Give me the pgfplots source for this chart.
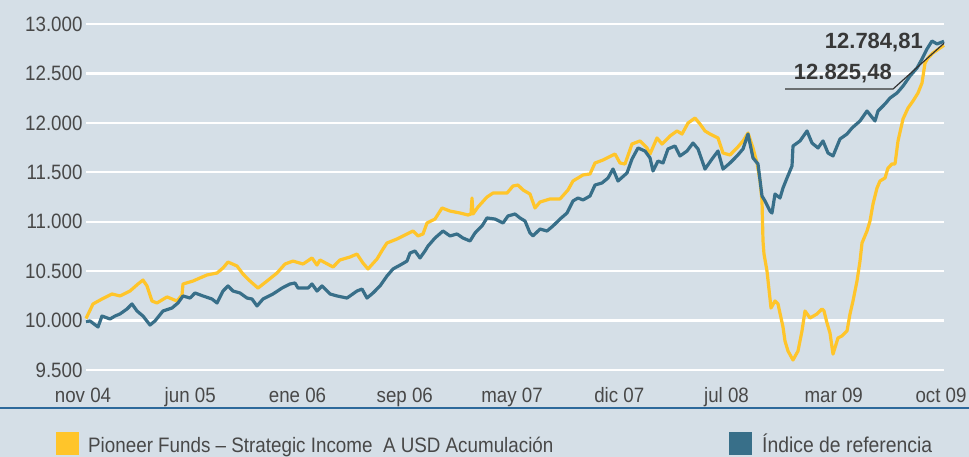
\documentclass[border=0pt]{standalone}
\usepackage{fontspec}
\setmainfont[FakeStretch=0.9]{Liberation Sans}
\newfontfamily\numfont{Liberation Sans}
\usepackage{pgfplots}
\pgfplotsset{compat=1.18}
\definecolor{bgcol}{RGB}{213,223,231}
\definecolor{fundcol}{RGB}{255,197,42}
\definecolor{idxcol}{RGB}{56,111,137}
\definecolor{txtcol}{RGB}{72,72,72}
\definecolor{sepcol}{RGB}{45,105,155}
\begin{document}
\begin{tikzpicture}[x=1pt,y=1pt]
\fill[bgcol] (0,0) rectangle (969,457);
\useasboundingbox (0,0) rectangle (969,457);
\begin{axis}[
  at={(86,88)}, anchor=south west,
  scale only axis, width=858pt, height=346pt,
  xmin=0, xmax=858, ymin=9500, ymax=13000,
  axis line style={draw=none},
  major tick length=0pt,
  scaled y ticks=false,
  ytick={9500,10000,...,13000},
  xtick={0,107.25,214.5,321.75,429,536.25,643.5,750.75,858},
  xticklabels={nov 04,jun 05,ene 06,sep 06,may 07,dic 07,jul 08,mar 09,oct 09},
  /pgf/number format/.cd,1000 sep={.},assume math mode=true,
  /pgfplots/.cd,
  ymajorgrids,
  grid style={white, line width=2.4pt},
  tick label style={font=\fontsize{20.8}{24}\selectfont, text=txtcol},
  xticklabel style={yshift=-14pt, xshift=-3pt},
  clip=false,
]
\addplot[fundcol, line width=3.2pt, line join=round] coordinates {
(0,10020) (7,10168) (16,10218) (26,10269) (34,10249) (44,10299) (52,10370) (57,10410)
(61,10350) (66,10198) (71,10178) (81,10239) (91,10198) (96,10259) (97,10370) (107,10400)
(114,10431) (121,10461) (131,10481) (137,10532) (142,10592) (151,10552) (157,10471)
(164,10400) (172,10329) (181,10400) (191,10481) (199,10572) (207,10602) (217,10572)
(226,10633) (231,10562) (234,10613) (247,10542) (254,10613) (264,10643) (271,10673)
(277,10582) (282,10522) (291,10623) (297,10724) (301,10785) (311,10825) (321,10876)
(327,10906) (332,10856) (337,10876) (341,10987) (349,11027) (356,11139) (364,11108)
(374,11088) (382,11068) (385,11078) (386,11240) (387,11078) (392,11149) (401,11250)
(407,11290) (421,11290) (427,11361) (432,11371) (437,11321) (444,11280) (449,11139)
(454,11199) (464,11230) (474,11230) (482,11321) (487,11412) (497,11473) (504,11483)
(509,11594) (517,11624) (529,11685) (534,11594) (539,11584) (546,11786) (554,11817)
(561,11746) (564,11685) (571,11847) (576,11786) (584,11867) (591,11918) (596,11887)
(602,11998) (609,12049) (614,11988) (619,11918) (624,11887) (632,11847) (637,11695)
(644,11675) (651,11746) (657,11817) (662,11897) (667,11746) (671,11594) (674,11412)
(676,11210) (677,10805) (678,10673) (681,10501) (685,10127) (689,10198) (692,10168)
(697,9935) (699,9793) (702,9692) (707,9601) (712,9692) (716,9895) (719,10097)
(724,10026) (731,10067) (736,10117) (738,10097) (741,9976) (744,9874) (747,9661)
(752,9824) (756,9845) (761,9895) (764,10067) (767,10198) (771,10400) (774,10602)
(776,10785) (781,10906) (784,11007) (787,11179) (791,11341) (794,11412) (799,11442)
(802,11543) (806,11584) (809,11584) (812,11817) (817,12039) (822,12150) (827,12221)
(832,12302) (836,12403) (839,12605) (842,12656) (847,12707) (854,12757) (858,12784.81)
};
\addplot[idxcol, line width=3.2pt, line join=round] coordinates {
(0,9990) (4,9996) (12,9935) (16,10046) (24,10016) (29,10046) (34,10067) (41,10117)
(46,10168) (51,10097) (57,10046) (64,9955) (69,9996) (77,10097) (86,10127) (92,10178)
(97,10249) (104,10228) (109,10279) (117,10249) (126,10218) (131,10178) (137,10299)
(142,10350) (147,10299) (154,10279) (161,10228) (166,10218) (171,10148) (177,10218)
(187,10269) (196,10329) (204,10370) (209,10380) (212,10329) (222,10329) (226,10370)
(231,10299) (236,10350) (244,10269) (251,10249) (261,10228) (271,10299) (276,10319)
(281,10228) (287,10279) (294,10350) (301,10451) (307,10522) (316,10572) (321,10602)
(324,10683) (329,10704) (334,10633) (339,10704) (342,10754) (349,10835) (357,10906)
(364,10856) (371,10876) (377,10835) (384,10805) (389,10886) (396,10957) (401,11038)
(409,11027) (417,10987) (422,11058) (429,11078) (434,11038) (439,11007) (444,10886)
(447,10856) (454,10926) (461,10906) (467,10957) (474,11027) (481,11088) (487,11210)
(492,11240) (497,11220) (504,11260) (509,11371) (516,11392) (522,11442) (527,11533)
(532,11412) (541,11493) (546,11634) (552,11746) (559,11715) (564,11645) (567,11513)
(572,11614) (577,11594) (582,11736) (589,11766) (594,11665) (601,11715) (607,11796)
(612,11736) (619,11533) (626,11634) (632,11715) (637,11533) (644,11594) (651,11665)
(657,11736) (662,11887) (667,11645) (672,11584) (676,11260) (679,11210) (684,11108)
(686,11088) (689,11280) (694,11240) (697,11341) (701,11442) (706,11564) (707,11766)
(714,11817) (721,11918) (726,11796) (732,11746) (737,11817) (742,11695) (747,11665)
(754,11837) (761,11887) (766,11948) (774,12019) (781,12120) (789,12019) (792,12120)
(799,12191) (804,12251) (811,12302) (817,12372) (824,12474) (831,12555) (836,12646)
(841,12747) (846,12828) (851,12798) (858,12825.48)
};
\draw[black!80, line width=1.2pt] (axis cs:699,12342) -- (axis cs:807,12342) -- (axis cs:858,12805);
\node[anchor=east, inner sep=0pt, text=black!78, font=\numfont\fontsize{22}{26}\selectfont\bfseries] at (axis cs:837,12808) {12.784,81};
\node[anchor=east, inner sep=0pt, text=black!78, font=\numfont\fontsize{22}{26}\selectfont\bfseries] at (axis cs:806,12499) {12.825,48};
\end{axis}
\draw[sepcol, line width=1.6pt] (0,49) -- (969,49);
\fill[fundcol] (56,2) rectangle (79,25);
\node[anchor=base west, inner sep=0pt, text=txtcol, font=\fontsize{20.9}{25}\selectfont] at (88,4) {Pioneer Funds -- Strategic Income\ \ A USD Acumulación};
\fill[idxcol] (729,2) rectangle (752,25);
\node[anchor=base west, inner sep=0pt, text=txtcol, font=\fontsize{21.5}{25}\selectfont] at (762,4) {Índice de referencia};
\end{tikzpicture}
\end{document}
